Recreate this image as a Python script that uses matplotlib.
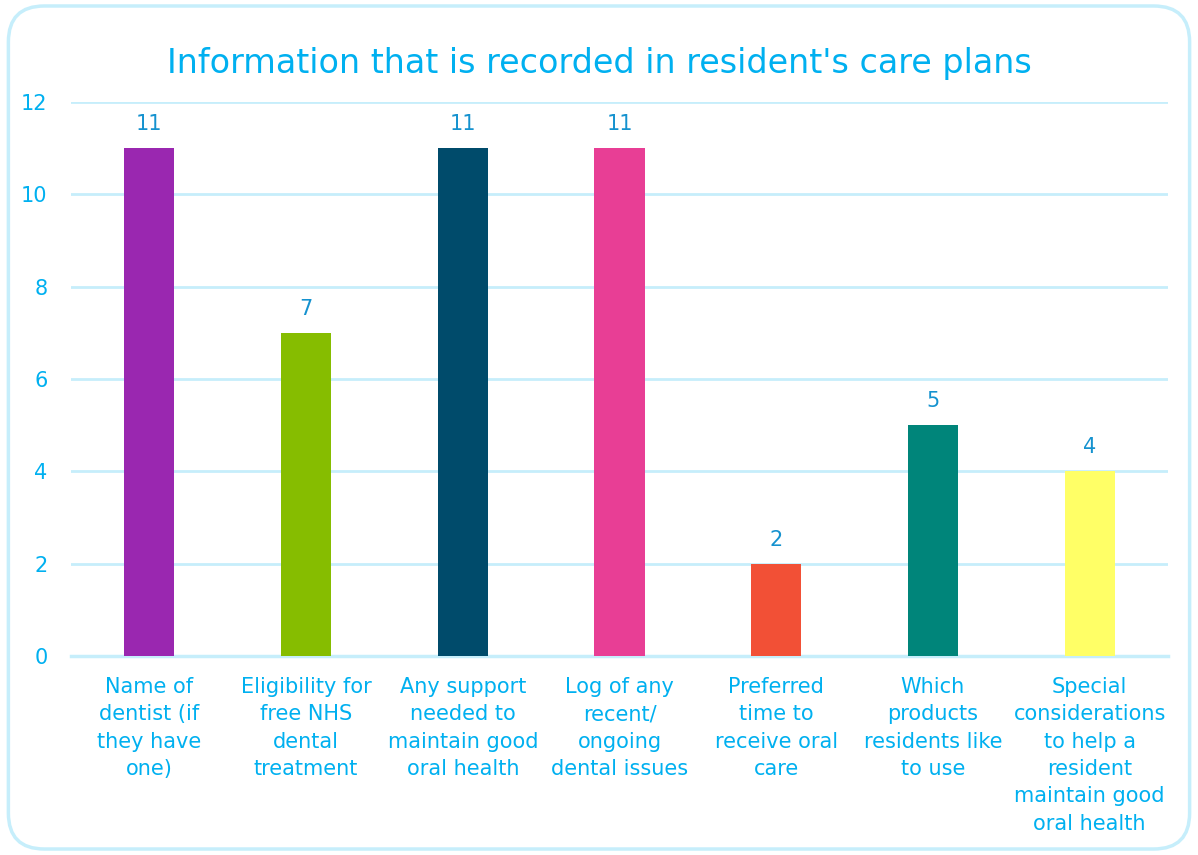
import matplotlib
matplotlib.use("Agg")
import matplotlib.pyplot as plt
from matplotlib.patches import FancyBboxPatch

categories = [
    "Name of\ndentist (if\nthey have\none)",
    "Eligibility for\nfree NHS\ndental\ntreatment",
    "Any support\nneeded to\nmaintain good\noral health",
    "Log of any\nrecent/\nongoing\ndental issues",
    "Preferred\ntime to\nreceive oral\ncare",
    "Which\nproducts\nresidents like\nto use",
    "Special\nconsiderations\nto help a\nresident\nmaintain good\noral health",
]
values = [11, 7, 11, 11, 2, 5, 4]
colors = ["#9A27B0", "#86BD00", "#004B6B", "#E83E95", "#F25036", "#00857A", "#FFFF66"]
yticks = [0, 2, 4, 6, 8, 10, 12]
title = "Information that is recorded in resident's care plans"

txt = "#00B0F0"
lab = "#1592CF"
grid = "#C6EEFB"

plt.rcParams['font.family'] = ['DejaVu Sans']
fig = plt.figure(figsize=(11.98, 8.55), dpi=100)
border = FancyBboxPatch((0.007, 0.007), 0.986, 0.986, boxstyle="round,pad=0,rounding_size=0.03",
                        transform=fig.transFigure, fill=False, edgecolor=grid, linewidth=2.5,
                        mutation_aspect=1198/855)
fig.patches.append(border)

ax = fig.add_axes([71/1198, 1-656/855, (1168-71)/1198, (656-102)/855])
x = range(len(values))
bars = ax.bar(x, values, width=0.32, color=colors, zorder=3)
for xi, v in zip(x, values):
    ax.annotate(str(v), (xi, v), xytext=(0, 10), textcoords="offset points",
                ha="center", va="bottom", color=lab, fontsize=15)
ax.set_xlim(-0.5, len(values) - 0.5)
ax.set_ylim(0, 12)
ax.set_yticks(yticks)
ax.set_yticklabels([str(t) for t in yticks], color=txt, fontsize=15)
ax.set_xticks(list(x))
ax.set_xticklabels(categories, color=txt, fontsize=15, linespacing=1.46)
ax.grid(axis="y", color=grid, linewidth=2, zorder=0)
ax.axhline(0, color=grid, linewidth=2.5, zorder=2, clip_on=False)
for s in ax.spines.values():
    s.set_visible(False)
ax.tick_params(axis="both", length=0)
ax.tick_params(axis="y", pad=17)
ax.tick_params(axis="x", pad=15)
fig.text(0.5, 1-63/855, title, ha="center", va="center", color=txt, fontsize=24)
fig.savefig("out.png", dpi=100)
